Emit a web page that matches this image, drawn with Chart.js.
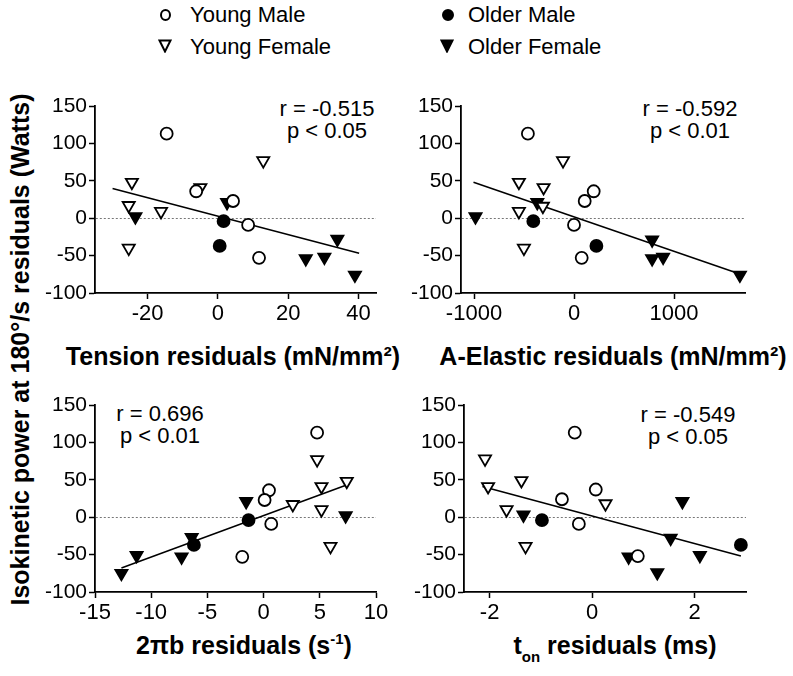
<!DOCTYPE html>
<html>
<head>
<meta charset="utf-8">
<script src="https://cdn.jsdelivr.net/npm/chart.js@4.4.1/dist/chart.umd.min.js"></script>
<style>
    body { margin: 0; background: #fff; }
    #fig {
        position: relative;
        width: 793px;
        height: 676px;
        overflow: hidden;
        font-family: "Liberation Sans", Arial, sans-serif;
        color: #000;
    }
    #fig canvas { position: absolute; }
    .abs { position: absolute; white-space: nowrap; }
    .xtitle { font-weight: bold; font-size: 25px; line-height: 25px; text-align: center; width: 420px; }
    .xtitle sup { font-size: 15px; vertical-align: 10px; line-height: 0; }
    .xtitle sub { font-size: 15px; vertical-align: -8px; line-height: 0; }
    .stat { font-size: 22px; line-height: 22px; text-align: center; width: 200px; }
    .leg { font-size: 22px; line-height: 22px; }
    .dot { position: absolute; box-sizing: border-box; border-radius: 50%; border: 2px solid #000; }
</style>
</head>
<body>
<div id="fig">
    <!-- legend -->
    <div class="dot" style="left:159.5px;top:9px;width:11px;height:12px;background:#fff;"></div>
    <div class="abs leg" style="left:190px;top:4px;">Young Male</div>
    <div class="dot" style="left:441.5px;top:9px;width:12px;height:12px;background:#000;"></div>
    <div class="abs leg" style="left:468px;top:4px;">Older Male</div>
    <svg class="abs" style="left:158px;top:39px;" width="14" height="14"><polygon points="1.5,1.5 12.5,1.5 7,12.5" fill="#fff" stroke="#000" stroke-width="2"/></svg>
    <div class="abs leg" style="left:190px;top:35.5px;">Young Female</div>
    <svg class="abs" style="left:440px;top:39px;" width="14" height="14"><polygon points="1.5,1.5 12.5,1.5 7,12.5" fill="#000" stroke="#000" stroke-width="2"/></svg>
    <div class="abs leg" style="left:468px;top:35.5px;">Older Female</div>

    <!-- y axis title -->
    <div class="abs" style="left:-280px;top:337px;width:600px;text-align:center;font-weight:bold;font-size:25px;line-height:25px;transform:rotate(-90deg);">Isokinetic power at 180°/s residuals (Watts)</div>

    <!-- x axis titles -->
    <div class="abs xtitle" style="left:23px;top:344px;">Tension residuals (mN/mm²)</div>
    <div class="abs xtitle" style="left:403px;top:344px;">A-Elastic residuals (mN/mm²)</div>
    <div class="abs xtitle" style="left:34px;top:633px;">2πb residuals (s<sup>-1</sup>)</div>
    <div class="abs xtitle" style="left:405px;top:633px;">t<sub>on</sub> residuals (ms)</div>

    <!-- correlation stats -->
    <div class="abs stat" style="left:227px;top:98px;">r = -0.515<br>p &lt; 0.05</div>
    <div class="abs stat" style="left:590px;top:98px;">r = -0.592<br>p &lt; 0.01</div>
    <div class="abs stat" style="left:60px;top:403px;">r = 0.696<br>p &lt; 0.01</div>
    <div class="abs stat" style="left:588px;top:404px;">r = -0.549<br>p &lt; 0.05</div>
</div>

<script>
// Power residuals axis (shared)
const yTicks = [-100, -50, 0, 50, 100, 150];

// Tension residuals panel  [x, y]
const tensionTicks = [-20, 0, 20, 40];
const tensionYoungMale = [[-14.6, 113], [-6.2, 36], [4.3, 23], [8.6, -9], [11.7, -53]];
const tensionYoungFemale = [[-24.5, 48], [-25.4, 17], [-16.2, 9], [-25.4, -40], [-5, 41], [12.9, 77]];
const tensionOlderMale = [[1.6, -4], [0.5, -37]];
const tensionOlderFemale = [[-23.5, 2], [2.6, 21], [25, -54], [30.3, -52], [34, -28], [39, -76]];
const tensionFit = [[-30, 39.7], [40.2, -46.8]];

// A-Elastic residuals panel
const elasticTicks = [-1000, 0, 1000];
const elasticYoungMale = [[-461, 113], [107, 23], [197, 36], [0, -9], [77, -53]];
const elasticYoungFemale = [[-551, 48], [-551, 9], [-304, 41], [-311, 16], [-110, 77], [-501, -40]];
const elasticOlderMale = [[-407, -4], [224, -37]];
const elasticOlderFemale = [[-985, 2], [-367, 21], [781, -29], [781, -54], [891, -52], [1659, -76]];
const elasticFit = [[-1005, 48], [1666, -75]];

// 2πb residuals panel
const bTicks = [-15, -10, -5, 0, 5, 10];
const bYoungMale = [[4.76, 113], [0.48, 36], [0.09, 23], [0.68, -9], [-1.9, -53]];
const bYoungFemale = [[4.76, 77], [7.4, 48], [5.15, 41], [2.6, 17], [5.15, 10], [5.95, -39]];
const bOlderMale = [[-1.34, -4], [-6.2, -37]];
const bOlderFemale = [[-1.55, 21], [7.3, 2], [-6.4, -27], [-7.3, -53], [-11.3, -51], [-12.65, -75]];
const bFit = [[-12.65, -68], [7.38, 43]];

// t_on residuals panel
const tonTicks = [-2, 0, 2];
const tonYoungMale = [[-0.34, 113], [0.07, 37], [-0.59, 24], [-0.26, -9], [0.89, -52]];
const tonYoungFemale = [[-2.09, 78], [-2.03, 41], [-1.38, 49], [-1.67, 10], [0.26, 18], [-1.3, -39]];
const tonOlderMale = [[-0.98, -4], [2.9, -37]];
const tonOlderFemale = [[-1.34, 3], [1.76, 21], [1.53, -28], [0.71, -53], [2.1, -51], [1.27, -74]];
const tonFit = [[-2.14, 41], [2.9, -52]];

const FONT = '"Liberation Sans", Arial, sans-serif';

// marker look for each group, same order as the groups below
const groupStyles = [
    { label: 'Young Male', pointStyle: 'circle', rotation: 0, fill: '#fff', radius: 6 },
    { label: 'Young Female', pointStyle: 'triangle', rotation: 180, fill: '#fff', radius: 7 },
    { label: 'Older Male', pointStyle: 'circle', rotation: 0, fill: '#000', radius: 6 },
    { label: 'Older Female', pointStyle: 'triangle', rotation: 180, fill: '#000', radius: 7 }
];

// chart area in page pixels: [left, top, right, bottom]
const panels = [
    { area: [95, 106, 376, 293], xMin: -35, xMax: 45, xTicks: tensionTicks,
      groups: [tensionYoungMale, tensionYoungFemale, tensionOlderMale, tensionOlderFemale], fit: tensionFit },
    { area: [461, 106, 745, 293], xMin: -1130, xMax: 1710, xTicks: elasticTicks,
      groups: [elasticYoungMale, elasticYoungFemale, elasticOlderMale, elasticOlderFemale], fit: elasticFit },
    { area: [95, 405, 376, 592], xMin: -15, xMax: 10, xTicks: bTicks,
      groups: [bYoungMale, bYoungFemale, bOlderMale, bOlderFemale], fit: bFit },
    { area: [464, 405, 746, 592], xMin: -2.5, xMax: 3, xTicks: tonTicks,
      groups: [tonYoungMale, tonYoungFemale, tonOlderMale, tonOlderFemale], fit: tonFit }
];

const Y_W = 70, X_H = 40, PAD_T = 16, PAD_R = 20;

function toPoints(pairs) {
    return pairs.map(p => ({ x: p[0], y: p[1] }));
}

function makePanel(p) {
    const [l, t, r, b] = p.area;
    const canvas = document.createElement('canvas');
    canvas.width = (r - l) + Y_W + PAD_R;
    canvas.height = PAD_T + (b - t) + X_H;
    canvas.style.left = (l - Y_W) + 'px';
    canvas.style.top = (t - PAD_T) + 'px';
    document.getElementById('fig').appendChild(canvas);

    const datasets = p.groups.map((pts, i) => {
        const s = groupStyles[i];
        return {
            label: s.label,
            data: toPoints(pts),
            pointStyle: s.pointStyle,
            rotation: s.rotation,
            pointRadius: s.radius,
            pointBackgroundColor: s.fill,
            pointBorderColor: '#000',
            pointBorderWidth: 1.8,
            clip: false,
            order: 0
        };
    });

    // regression line
    datasets.push({
        label: 'fit',
        data: toPoints(p.fit),
        showLine: true,
        borderColor: '#000',
        borderWidth: 1.5,
        pointRadius: 0,
        clip: false,
        order: 5
    });

    new Chart(canvas, {
        type: 'scatter',
        data: { datasets: datasets },
        options: {
            responsive: false,
            animation: false,
            layout: { padding: { top: PAD_T, right: PAD_R, left: 0, bottom: 0 } },
            plugins: {
                legend: { display: false },
                tooltip: { enabled: false }
            },
            scales: {
                x: {
                    type: 'linear',
                    min: p.xMin,
                    max: p.xMax,
                    afterBuildTicks: function(scale) {
                        scale.ticks = p.xTicks.map(v => ({ value: v }));
                    },
                    afterFit: function(scale) { scale.height = X_H; },
                    grid: {
                        drawOnChartArea: false,
                        tickLength: 6,
                        tickColor: '#000',
                        tickWidth: 1.5
                    },
                    border: { display: true, color: '#000', width: 1.8 },
                    ticks: {
                        color: '#000',
                        font: { family: FONT, size: 22 },
                        padding: 2,
                        maxRotation: 0,
                        autoSkip: false,
                        callback: v => String(v)
                    }
                },
                y: {
                    type: 'linear',
                    min: -100,
                    max: 150,
                    afterBuildTicks: function(scale) {
                        scale.ticks = yTicks.map(v => ({ value: v }));
                    },
                    afterFit: function(scale) { scale.width = Y_W; },
                    grid: {
                        // only the zero line is shown, dotted
                        color: c => (c.tick && c.tick.value === 0) ? '#777' : 'rgba(0,0,0,0)',
                        lineWidth: 1,
                        tickLength: 6,
                        tickColor: '#000',
                        tickWidth: 1.5
                    },
                    border: { display: true, color: '#000', width: 1.8, dash: [2, 2] },
                    ticks: {
                        color: '#000',
                        font: { family: FONT, size: 21 },
                        padding: 2,
                        autoSkip: false,
                        callback: v => String(v)
                    }
                }
            }
        }
    });
}

panels.forEach(makePanel);
</script>
</body>
</html>
